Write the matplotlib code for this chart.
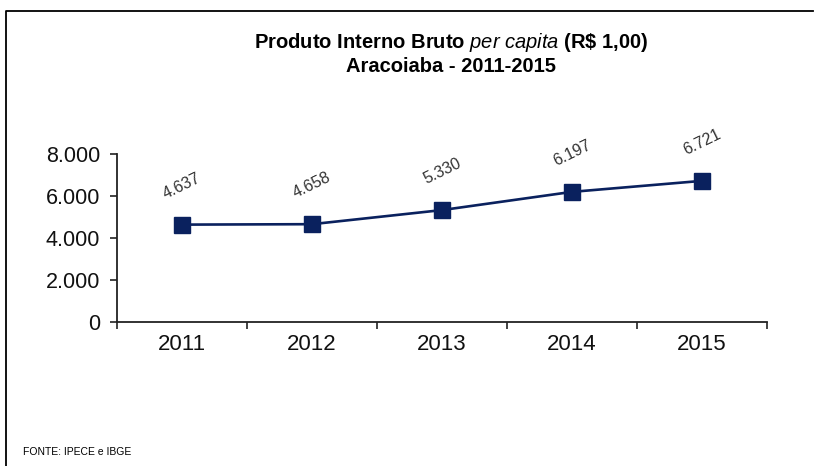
import matplotlib
matplotlib.use('Agg')
import matplotlib.pyplot as plt
from matplotlib.lines import Line2D
from matplotlib.ticker import FuncFormatter

# PIB per capita, Aracoiaba (R$ 1,00)
years = ['2011', '2012', '2013', '2014', '2015']
pib_per_capita = [4637, 4658, 5330, 6197, 6721]
y_ticks = [0, 2000, 4000, 6000, 8000]

NAVY = '#0a215e'


def br_number(v, _=None):
    return '{:,.0f}'.format(v).replace(',', '.')


plt.rcParams['font.family'] = ['Liberation Sans', 'DejaVu Sans']
plt.rcParams['mathtext.fontset'] = 'custom'
plt.rcParams['mathtext.it'] = 'Liberation Sans:italic'
plt.rcParams['mathtext.rm'] = 'Liberation Sans:bold'

fig = plt.figure(figsize=(8.15, 4.66), dpi=100)
ax = fig.add_axes([117 / 815, 1 - 322 / 466, 650 / 815, 168 / 466])

x = range(len(years))
ax.plot(x, pib_per_capita, color=NAVY, lw=1.9, marker='s', markersize=11.5, zorder=3)
for xi, v in zip(x, pib_per_capita):
    ax.annotate(br_number(v), (xi, v), xytext=(0, 28), textcoords='offset points',
                ha='center', va='center', rotation=26, fontsize=11.5, color='#333333')

ax.set_xlim(-0.5, len(years) - 0.5)
ax.set_ylim(0, 8000)
ax.set_yticks(y_ticks)
ax.yaxis.set_major_formatter(FuncFormatter(br_number))

# category boundaries as ticks, labels centred between them
ax.set_xticks([i - 0.5 for i in range(len(years) + 1)])
ax.set_xticklabels([])
ax.set_xticks(list(x), minor=True)
ax.set_xticklabels(years, minor=True)
ax.tick_params(axis='x', which='minor', length=0, pad=9, labelsize=16, labelcolor='#111111')
ax.tick_params(axis='x', which='major', length=5, width=1.2, color='#222222')
ax.tick_params(axis='y', length=5, width=1.2, color='#222222', pad=7, labelsize=15.5, labelcolor='#111111')

for side in ('top', 'right'):
    ax.spines[side].set_visible(False)
for side in ('left', 'bottom'):
    ax.spines[side].set_linewidth(1.3)
    ax.spines[side].set_color('#222222')

fig.text(451 / 815, 1 - 42 / 466, r'Produto Interno Bruto $per\ capita$ (R\$ 1,00)',
         ha='center', va='center', fontsize=14.5, fontweight='bold')
fig.text(451 / 815, 1 - 67 / 466, 'Aracoiaba - 2011-2015', ha='center', va='center',
         fontsize=14.5, fontweight='bold')
fig.text(23 / 815, 1 - 452 / 466, 'FONTE: IPECE e IBGE', ha='left', va='center', fontsize=7.5)

# frame around the chart (left and top edges)
fig.add_artist(Line2D([6 / 815, 6 / 815, 813 / 815], [0, 1 - 11 / 466, 1 - 11 / 466],
                      transform=fig.transFigure, color='black', lw=1.3))

fig.savefig('out.png', dpi=100)
